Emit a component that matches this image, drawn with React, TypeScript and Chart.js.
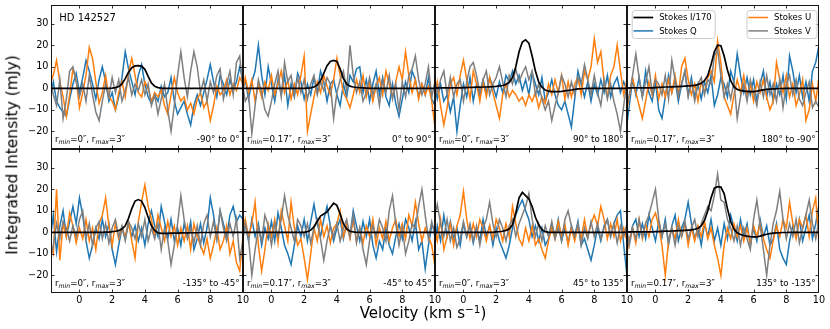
import React, { useEffect, useRef } from 'react';
import { Chart, registerables } from 'chart.js';

Chart.register(...registerables);

// ---------- data ----------
const VELOCITY = [
  -1.8, -1.6, -1.4, -1.2, -1.0, -0.8, -0.6, -0.4, -0.2, 0.0,
  0.2, 0.4, 0.6, 0.8, 1.0, 1.2, 1.4, 1.6, 1.8, 2.0,
  2.2, 2.4, 2.6, 2.8, 3.0, 3.2, 3.4, 3.6, 3.8, 4.0,
  4.2, 4.4, 4.6, 4.8, 5.0, 5.2, 5.4, 5.6, 5.8, 6.0,
  6.2, 6.4, 6.6, 6.8, 7.0, 7.2, 7.4, 7.6, 7.8, 8.0,
  8.2, 8.4, 8.6, 8.8, 9.0, 9.2, 9.4, 9.6, 9.8, 10.0,
];

const X_TICK_STEP = 2;
const Y_TICK_STEP = 10;
const X_MIN = -1.74;
const X_MAX = 10;
const Y_MIN = -28.2;
const Y_MAX = 38.7;

// Stokes I / 170
const I_1 = [0,0,0,0,0,0,0,0,0,0, 0,0,0,0,0,0,0,0,0,0.1, 0.3,0.8,2.0,4.5,7.5,9.6,10.4,10.5,10.3,8.8, 5.5,2.5,0.9,0.3,0.1,0,0,0,0,0, 0,0,0,0,0,0,0,0,0,0, 0,0,0,0,0,0,0,0,0,0];
const I_2 = [0,0,0,0,0,0,0,0,0,0, 0,0,0,0,0,0,0,0,0,0, 0.1,0.2,0.6,1.5,3.5,7,10.5,12.5,13,12.5, 9,4.5,2.0,1.0,0.6,0.4,0.3,0.2,0.1,0, 0,0,0,0,0,0,0,0,0,0, 0,0,0,0,0,0,0,0,0,0];
const I_3 = [0.2,0.2,0.2,0.2,0.2,0.2,0.2,0.2,0.2,0.3, 0.3,0.4,0.4,0.5,0.5,0.6,0.6,0.7,0.8,0.9, 1.1,1.3,1.8,2.8,5,10,17,21.5,22.5,21, 15,8,3,0.5,-0.8,-1.3,-1.5,-1.5,-1.5,-1.4, -1.2,-1.0,-0.8,-0.5,-0.3,-0.2,-0.1,0,0,0, 0,0,0,0,0,0,0,0,0,0];
const I_4 = [0.2,0.2,0.2,0.2,0.2,0.2,0.2,0.2,0.2,0.3, 0.4,0.5,0.6,0.6,0.7,0.8,0.8,0.9,1.0,1.1, 1.2,1.4,1.7,2.3,3.5,6,11,17,20,19.8, 15,8.5,3.5,0.8,-0.5,-1.0,-1.3,-1.4,-1.5,-1.5, -1.3,-1.0,-0.7,-0.5,-0.4,-0.3,-0.2,-0.1,-0.1,0, 0,0,0,0,0,0,0,0,0,0];
const I_5 = [0,0,0,0,0,0,0,0,0,0, 0,0,0,0,0,0,0,0.1,0.1,0.3, 0.5,0.8,1.5,3,6.5,11,14.5,15.2,14.5,11.5, 7,3,0.8,-0.2,-0.5,-0.5,-0.5,-0.4,-0.4,-0.4, -0.3,-0.3,-0.3,-0.2,-0.2,-0.2,-0.1,-0.1,-0.1,-0.1, 0,0,0,0,0,0,0,0,0,0];
const I_6 = [0,0,0,0,0,0,0,0,0,0, 0,0,0,0,0,0,0,0,0,0, 0.3,1.0,2.5,5,7.5,8.5,9.5,11.5,13.5,12.5, 8.5,4,1.5,0.5,0.2,0,0,0,0,0, 0,0,0,0,0,0,0,0,0,0, 0,0,0,0,0,0,0,0,0,0];
const I_7 = [0,0,0,0,0,0,0,0,0,0, 0,0,0,0,0,0,0,0,0,0.2, 0.3,0.5,0.9,1.5,3.5,9,16,18.5,17,15.5, 12,7,3.5,1.2,0.3,0,0,0,0,0, 0,0,0,0,0,0,0,0,0,0, 0,0,0,0,0,0,0,0,0,0];
const I_8 = [0.2,0.2,0.2,0.2,0.2,0.2,0.2,0.2,0.2,0.3, 0.3,0.4,0.5,0.5,0.6,0.7,0.8,0.8,0.9,1.0, 1.1,1.4,1.9,3,5.5,10,16,20.5,21.2,21, 18,11,5,1.5,-0.2,-1.0,-1.5,-1.8,-2.0,-2.1, -2.1,-1.8,-1.3,-0.9,-0.6,-0.4,-0.3,-0.2,-0.1,-0.1, 0,0,0,0,0,0,0,0,0,0];

// Stokes Q
const Q_1 = [-4,3,-6,-9,-11,-13,-5,2,7,-2, 5,13,8,2,-5,4,10,3,-6,-2, -10,-4,5,17,9,3,-3,6,11,2, -4,-7,-3,-6,1,-4,-2,5,-6,-12, -9,-6,-12,-17,-8,-3,-8,-2,4,11, 3,-4,6,2,-3,4,-1,3,10,4];
const Q_2 = [-2,4,-5,3,8,20,6,-3,10,2, -6,4,-3,6,-8,2,-4,7,3,-5, 2,-3,5,-2,8,3,-6,2,4,-3, -8,2,-4,6,3,9,10,-2,4,-6, 2,8,-3,5,-4,-8,2,-7,-13,-5, 3,-2,8,4,-4,2,-3,5,-5,-8];
const Q_3 = [3,-5,2,-6,-3,-11,-4,-20,-8,2, -4,5,-6,2,-3,4,-2,5,1,-4, 3,-2,6,3,8,2,6,-1,4,-3, 7,2,-3,5,-6,-2,4,-3,-8,-10, -6,-12,-18,-5,8,2,-4,3,-6,2, -3,4,-2,6,-4,2,5,-2,3,-1];
const Q_4 = [-20,-8,4,-3,5,-4,8,-2,-6,3, -10,-14,-4,6,-2,4,-6,2,8,-3, 5,-4,2,-5,3,-2,6,-8,-3,5, 2,-4,8,3,16,6,-2,5,-3,4, -6,2,8,-4,3,-6,2,-3,6,-5, 15,8,-2,6,-4,3,-6,8,12,20];
const Q_5 = [-4,8,-9,3,10,-2,5,12,4,16, 8,-4,-12,-6,2,-3,6,-2,4,-8, -15,-6,2,-3,4,-2,3,-4,2,-6, 4,10,3,-2,12,5,-3,6,-4,2, -6,4,-2,5,-8,-3,4,-5,2,16, 8,-3,10,4,-2,8,12,5,8,6];
const Q_6 = [8,3,-4,6,-2,4,-6,2,-3,5, -4,9,2,-6,-10,-15,-6,3,-2,6, -4,5,13,4,-2,6,12,3,-4,2, 6,-3,4,-2,10,3,-4,5,-2,6, -6,-12,-4,-8,2,-6,-10,-2,4,-3, 6,2,-4,5,-8,-4,-17,-6,3,2];
const Q_7 = [-8,3,-4,8,-2,5,-3,2,-6,4, -2,3,-5,2,-4,6,-2,3,-6,2, -4,-8,-12,-6,2,8,12,15,10,6, -2,3,-4,2,-6,-3,4,-2,6,-4, 2,-5,3,-2,5,-6,-3,-8,-13,-6, 2,-4,3,6,-2,4,8,10,-6,-20];
const Q_8 = [-10,-4,3,6,-2,4,-3,8,2,-4, 5,-2,6,-6,3,8,-4,2,6,14, 4,-3,2,-6,4,-2,6,-4,2,-6, 4,-3,8,2,-4,6,-2,4,-6,2, -4,6,-2,3,-6,-3,4,-8,-12,-15, -4,3,-2,6,-4,2,8,-3,4,13];

// Stokes U
const U_1 = [2,6,13,3,-4,-13,-3,9,4,-9, -2,6,19,14,3,-7,-2,6,-4,-6, -10,-2,3,-4,7,14,6,-2,-4,3, 0,-6,-2,-4,-1,-8,-12,-3,5,-2, -6,-4,-10,-7,-12,-5,-2,-9,-6,-15, -8,1,-3,-1,4,-3,2,-1,5,2];
const U_2 = [-3,5,-2,4,-6,2,-4,3,-1,6, -3,2,8,-2,4,-5,2,-3,6,15, -20,-12,-4,3,-2,6,1,-3,4,14, 6,-2,-5,-9,-3,4,-2,6,-4,2, -6,1,5,-3,8,2,-4,3,10,4, 17,6,-2,4,-5,2,-3,1,-6,-18];
const U_3 = [-4,3,-8,-17,-9,2,5,-3,6,13, 4,-5,8,2,-6,3,-4,5,-2,-8, -14,-3,2,-4,-1,-3,-6,-4,-8,-3, -6,-2,-9,-4,-7,2,-3,4,-2,6, -5,3,-4,2,5,-3,8,4,10,23, 12,17,3,-4,6,10,20,8,-3,4];
const U_4 = [-12,-4,5,-2,-8,-14,-6,3,-3,6, -5,2,-4,4,-2,6,-3,10,14,4, -3,2,-6,3,-2,5,8,3,22,12, -4,-8,-12,-3,4,-2,6,-3,2,-6, 3,-2,4,-4,-10,-6,12,4,-2,6, -4,2,-8,-3,4,-15,-10,2,-6,5];
const U_5 = [-6,-10,20,-13,4,-2,9,3,-5,2, -3,6,-4,2,-8,4,8,16,3,-6, 4,-3,2,-2,5,-4,-12,5,14,22, 12,6,-2,8,2,-4,5,-2,3,-6, 2,-4,3,-8,4,-2,-6,-10,-3,-12, -6,2,-8,-4,3,-10,-4,-14,-18,-2];
const U_6 = [-3,6,-2,4,14,-6,-18,-8,4,-2, 6,-5,10,3,-4,14,2,-6,-3,-12, -22,-10,2,-4,6,-2,3,-5,2,4, 10,-2,4,-3,6,-4,2,-5,3,-2, 6,-6,2,-3,5,-4,2,6,-2,4, -3,8,3,14,4,-4,2,-2,-6,-16];
const U_7 = [2,-4,6,-8,-2,4,-6,3,8,19, 6,-3,4,-2,6,2,-4,3,-3,6, 2,-4,4,-2,12,4,-3,-6,2,-4, 3,-6,-3,-8,-12,-4,2,-3,5,-2, 4,-6,2,-4,3,-3,6,-2,4,8, 3,12,6,-3,4,-2,6,-4,2,-4];
const U_8 = [-12,-4,2,-5,6,-3,4,-2,6,9, 3,-6,-20,-4,2,-3,6,-2,4,-6, 2,-4,3,-2,5,-3,2,-6,-12,-20, -6,2,-3,4,-2,3,-4,2,-5,3, -2,4,-3,-8,-12,-4,3,-2,6,2, 14,4,-3,6,2,8,-2,10,16,-6];

// Stokes V
const V_1 = [5,-3,-8,4,-14,-5,8,10,3,-4, 2,-6,6,-3,-11,-15,-6,2,-4,5, -2,4,-6,-1,5,-3,2,-1,4,-3, 2,-8,-3,-12,-5,2,-10,-20,-8,6, 17,5,-4,8,17,10,-2,4,-6,3, -2,6,9,-5,2,8,-3,12,15,-1];
const V_2 = [3,-6,-3,-21,-8,4,-2,-10,-13,-6, 2,8,-4,12,3,6,-3,5,-2,4, -5,2,6,-3,3,-1,5,2,-14,-2, 4,8,-1,20,6,-2,3,-6,-2,5, -3,2,-8,4,-2,6,-5,2,-10,3, -4,6,9,15,4,-3,2,10,-4,3];
const V_3 = [6,-2,4,8,-3,5,-4,2,4,-6, 3,10,12,6,-2,4,8,-3,2,5, 10,3,-4,6,2,9,3,7,10,4, 8,-3,2,-5,-10,-6,-15,-8,-2,6, 2,-4,3,-3,5,2,11,4,-3,6, -2,-8,4,-5,2,-6,-12,-20,-8,3];
const V_4 = [-10,-3,6,16,5,-4,3,10,-2,4, 2,-3,6,-5,13,4,-3,2,8,-4, 3,-6,2,5,-3,4,2,15,18,6, -4,2,-5,3,-14,-4,2,-6,4,-2, -8,3,-4,6,-3,2,-6,4,-9,2, 6,-3,4,-5,-8,-2,3,-9,-6,-9];
const V_5 = [-13,-6,4,-3,5,2,-4,3,-2,6, 10,-3,4,-6,2,5,-3,4,-5,2, 6,-2,3,-4,5,2,-3,4,-2,6, -4,2,-3,4,-8,2,-4,-15,-6,4, 17,6,-3,2,-5,3,-6,4,8,-2, 5,-3,10,2,-4,4,-2,6,-12,-4];
const V_6 = [-6,4,-3,-20,-8,2,-4,8,3,-6, 4,-2,6,17,8,2,-4,6,3,-2, 4,-5,2,6,-3,-13,-4,3,-2,4, -4,2,6,-2,8,-5,2,-8,-15,-4, 3,-2,6,2,-4,10,17,4,-6,2, -10,-4,4,2,12,20,8,-3,5,-2];
const V_7 = [6,13,4,-2,6,-4,2,-7,-3,5, -2,4,-4,3,-6,2,6,14,4,-2, 6,2,-4,3,6,-2,4,8,12,18, 6,-2,4,-4,3,-2,5,-3,2,-4, 6,10,3,-2,4,-6,2,-3,5,-2, 4,-3,2,6,-2,4,-5,3,-2,4];
const V_8 = [4,-6,2,-3,6,-2,4,8,14,20, 6,-2,4,-4,2,-6,3,-2,5,-3, 2,6,-2,4,8,12,10,17,27,15, 14,6,2,-4,3,-6,2,-3,-8,6, 15,3,-8,-20,-6,4,10,19,6,-3, 4,-2,6,-5,2,8,15,4,-3,6];

const STOKES_I = [I_1, I_2, I_3, I_4, I_5, I_6, I_7, I_8];
const STOKES_Q = [Q_1, Q_2, Q_3, Q_4, Q_5, Q_6, Q_7, Q_8];
const STOKES_U = [U_1, U_2, U_3, U_4, U_5, U_6, U_7, U_8];
const STOKES_V = [V_1, V_2, V_3, V_4, V_5, V_6, V_7, V_8];

const R_MIN = ['0', '0.17', '0', '0.17', '0', '0.17', '0', '0.17'];
const R_MAX = ['3', '3', '3', '3', '3', '3', '3', '3'];
const PA_RANGE = ['-90° to 0°', '0° to 90°', '90° to 180°', '180° to -90°', '-135° to -45°', '-45° to 45°', '45° to 135°', '135° to -135°'];
const SOURCE_NAME = 'HD 142527';
const LEGEND_LEFT = ['Stokes I/170', 'Stokes Q'];
const LEGEND_RIGHT = ['Stokes U', 'Stokes V'];

const C_I = '#000000';
const C_Q = '#1f77b4';
const C_U = '#ff7f0e';
const C_V = '#7f7f7f';

// ---------- layout ----------
const FIG_W = 830;
const FIG_H = 329;
const LEFT0 = 51;
const TOP0 = 5;
const PANEL_W = 192;
const PANEL_H = 144;
const FONT = '"DejaVu Sans", sans-serif';

const fmt = (v: number) => (v < 0 ? '\u2212' + Math.abs(v) : String(v));

function drawLegendBox(ctx: CanvasRenderingContext2D, x: number, y: number, w: number, h: number, labels: string[], colors: string[], widths: number[]) {
  ctx.save();
  ctx.beginPath();
  if ((ctx as any).roundRect) (ctx as any).roundRect(x + 0.5, y + 0.5, w, h, 3);
  else ctx.rect(x + 0.5, y + 0.5, w, h);
  ctx.fillStyle = 'rgba(255,255,255,0.85)';
  ctx.fill();
  ctx.strokeStyle = '#cccccc';
  ctx.lineWidth = 1;
  ctx.stroke();
  labels.forEach((lab, k) => {
    const ly = y + 7.5 + k * 13.4;
    ctx.beginPath();
    ctx.moveTo(x + 1.8, ly);
    ctx.lineTo(x + 21.5, ly);
    ctx.strokeStyle = colors[k];
    ctx.lineWidth = widths[k];
    ctx.stroke();
    ctx.fillStyle = '#000';
    ctx.font = `8.5px ${FONT}`;
    ctx.textBaseline = 'middle';
    ctx.textAlign = 'left';
    ctx.fillText(lab, x + 27.5, ly + 0.5);
  });
  ctx.restore();
}

function makeDecor(index: number) {
  return {
    id: 'panelDecor' + index,
    afterDatasetsDraw(chart: any) {
      const ctx: CanvasRenderingContext2D = chart.ctx;
      const a = chart.chartArea;
      const xs = chart.scales.x;
      const ys = chart.scales.y;
      ctx.save();
      // frame
      ctx.strokeStyle = '#000';
      ctx.lineWidth = 0.9;
      ctx.strokeRect(a.left + 0.5, a.top + 0.5, a.right - a.left - 1, a.bottom - a.top - 1);
      // inward ticks on all four sides
      const L = 3.5;
      ctx.lineWidth = 0.8;
      ctx.beginPath();
      xs.ticks.forEach((t: any) => {
        const px = Math.round(xs.getPixelForValue(t.value)) + 0.5;
        if (px < a.left + 1 || px > a.right - 1) return;
        ctx.moveTo(px, a.bottom);
        ctx.lineTo(px, a.bottom - L);
        ctx.moveTo(px, a.top);
        ctx.lineTo(px, a.top + L);
      });
      ys.ticks.forEach((t: any) => {
        const py = Math.round(ys.getPixelForValue(t.value)) + 0.5;
        ctx.moveTo(a.left, py);
        ctx.lineTo(a.left + L, py);
        ctx.moveTo(a.right, py);
        ctx.lineTo(a.right - L, py);
      });
      ctx.stroke();

      ctx.fillStyle = '#000';
      ctx.textBaseline = 'alphabetic';
      // source name
      if (index === 0) {
        ctx.font = `10px ${FONT}`;
        ctx.textAlign = 'left';
        ctx.fillText(SOURCE_NAME, a.left + 8.3, a.top + 15.5);
      }
      // radius label with subscripts
      const base = a.bottom - 7;
      let cx = a.left + 4;
      const seg = (text: string, sub: boolean) => {
        ctx.font = `${sub ? 'italic 6.2px' : '8.7px'} ${FONT}`;
        ctx.textAlign = 'left';
        ctx.fillText(text, cx, sub ? base + 2 : base);
        cx += ctx.measureText(text).width;
      };
      seg('r', false);
      seg('min', true);
      seg('=' + R_MIN[index] + '\u2033, r', false);
      seg('max', true);
      seg('=' + R_MAX[index] + '\u2033', false);
      // position angle label
      ctx.font = `8.7px ${FONT}`;
      ctx.textAlign = 'right';
      ctx.fillText(PA_RANGE[index], a.right - 3.5, base);

      if (index === 3) {
        drawLegendBox(ctx, a.left + 4.7, a.top + 5, 83, 28, LEGEND_LEFT, [C_I, C_Q], [1.7, 1.5]);
        drawLegendBox(ctx, a.left + 119.5, a.top + 5, 70, 28, LEGEND_RIGHT, [C_U, C_V], [1.5, 1.5]);
      }
      ctx.restore();
    },
  };
}

function Panel({ index }: { index: number }) {
  const ref = useRef<HTMLCanvasElement | null>(null);
  const col = index % 4;
  const row = Math.floor(index / 4);
  const chartLeft = LEFT0 + col * PANEL_W;
  const chartTop = TOP0 + row * PANEL_H;
  const canvasLeft = col === 0 ? 0 : chartLeft;
  const padRight = row === 1 ? 8 : 0;
  const canvasW = chartLeft + PANEL_W + padRight - canvasLeft;
  const axisH = row === 1 ? FIG_H - (chartTop + PANEL_H) : 0;
  const canvasH = PANEL_H + axisH;
  const yAxisW = col === 0 ? LEFT0 : 0;

  useEffect(() => {
    const canvas = ref.current;
    if (!canvas) return;
    const toXY = (arr: number[]) => VELOCITY.map((v, i) => ({ x: v, y: arr[i] }));
    const chart = new Chart(canvas, {
      type: 'line',
      data: {
        datasets: [
          { label: 'Stokes I/170', data: toXY(STOKES_I[index]), borderColor: C_I, borderWidth: 1.7 },
          { label: 'Stokes V', data: toXY(STOKES_V[index]), borderColor: C_V, borderWidth: 1.5 },
          { label: 'Stokes U', data: toXY(STOKES_U[index]), borderColor: C_U, borderWidth: 1.5 },
          { label: 'Stokes Q', data: toXY(STOKES_Q[index]), borderColor: C_Q, borderWidth: 1.5 },
        ],
      },
      options: {
        responsive: false,
        animation: false,
        devicePixelRatio: 1,
        events: [],
        layout: { padding: { left: 0, right: padRight, top: 0, bottom: 0 } },
        elements: { point: { radius: 0 }, line: { tension: 0, fill: false } },
        plugins: { legend: { display: false }, tooltip: { enabled: false }, title: { display: false } },
        scales: {
          x: {
            type: 'linear',
            min: X_MIN,
            max: X_MAX,
            display: row === 1,
            grid: { display: false, drawTicks: false },
            border: { display: false },
            ticks: {
              stepSize: X_TICK_STEP,
              includeBounds: false,
              autoSkip: false,
              maxRotation: 0,
              padding: 2,
              color: '#000',
              font: { family: FONT, size: 9.7 },
              callback: (v: any) => fmt(Number(v)),
            },
            afterFit: (s: any) => {
              s.height = axisH;
              s.paddingLeft = 0;
              s.paddingRight = 0;
            },
          },
          y: {
            type: 'linear',
            min: Y_MIN,
            max: Y_MAX,
            display: col === 0,
            grid: { display: false, drawTicks: false },
            border: { display: false },
            ticks: {
              stepSize: Y_TICK_STEP,
              includeBounds: false,
              autoSkip: false,
              padding: 2.5,
              color: '#000',
              font: { family: FONT, size: 9.7 },
              callback: (v: any) => fmt(Number(v)),
            },
            afterFit: (s: any) => {
              s.width = yAxisW;
              s.paddingTop = 0;
              s.paddingBottom = 0;
            },
          },
        },
      } as any,
      plugins: [makeDecor(index)],
    });
    return () => chart.destroy();
  }, [index]);

  return (
    <canvas
      ref={ref}
      width={canvasW}
      height={canvasH}
      style={{ position: 'absolute', left: canvasLeft, top: chartTop, width: canvasW, height: canvasH }}
    />
  );
}

export default function App() {
  return (
    <div style={{ position: 'fixed', left: 0, top: 0, width: FIG_W, height: FIG_H, background: '#fff', overflow: 'hidden' }}>
      {STOKES_I.map((_, i) => (
        <Panel key={i} index={i} />
      ))}
      <div
        style={{
          position: 'absolute',
          left: 12.7,
          top: 154.5,
          transform: 'translate(-50%, -50%) rotate(-90deg)',
          fontFamily: FONT,
          fontSize: 15.5,
          lineHeight: '15.5px',
          whiteSpace: 'nowrap',
          color: '#000',
        }}
      >
        Integrated Intensity (mJy)
      </div>
      <div
        style={{
          position: 'absolute',
          left: 423,
          top: 306,
          transform: 'translateX(-50%)',
          fontFamily: FONT,
          fontSize: 15,
          lineHeight: '15px',
          whiteSpace: 'nowrap',
          color: '#000',
        }}
      >
        Velocity (km s<span style={{ fontSize: '0.7em', position: 'relative', top: '-0.5em' }}>{'\u2212'}1</span>)
      </div>
    </div>
  );
}
